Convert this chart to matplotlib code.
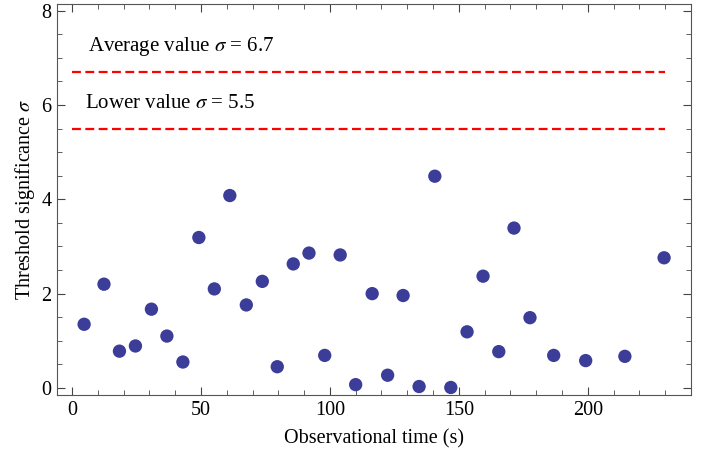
import matplotlib
matplotlib.use('Agg')
import matplotlib.pyplot as plt
from matplotlib.ticker import MultipleLocator

plt.rcParams['font.family'] = ['Liberation Serif', 'DejaVu Serif']
plt.rcParams['mathtext.fontset'] = 'stix'

# observation times (s) and threshold significance
times = [4.7, 12.4, 18.4, 24.6, 30.8, 36.8, 43.0, 49.2, 55.2, 61.2, 67.6, 73.8,
         79.6, 85.8, 91.9, 98.0, 104.0, 110.0, 116.4, 122.4, 128.4, 134.6, 140.7,
         146.9, 153.2, 159.4, 165.5, 171.4, 177.6, 186.8, 199.2, 214.4, 229.6]
sigma = [1.35, 2.20, 0.78, 0.89, 1.67, 1.10, 0.55, 3.19, 2.10, 4.08, 1.76, 2.26,
         0.45, 2.63, 2.86, 0.69, 2.82, 0.07, 2.00, 0.27, 1.96, 0.03, 4.49,
         0.01, 1.19, 2.37, 0.77, 3.39, 1.49, 0.69, 0.58, 0.67, 2.76]

avg_sigma = 6.7
low_sigma = 5.5
line_x = [0, 230]

fig = plt.figure(figsize=(7.13, 4.53), dpi=100)
ax = fig.add_axes([0.080, 0.128, 0.889, 0.863])

ax.scatter(times, sigma, s=92, color='#3c3d98', edgecolors='none', zorder=3)
ax.plot(line_x, [avg_sigma, avg_sigma], color='red', ls=(0, (4, 2)), lw=1.6)
ax.plot(line_x, [low_sigma, low_sigma], color='red', ls=(0, (4, 2)), lw=1.6)

ax.text(6.3, 7.25, r'Average value $\sigma$ = 6.7', fontsize=15, va='center')
ax.text(5.1, 6.03, r'Lower value $\sigma$ = 5.5', fontsize=15, va='center')

ax.set_xlim(-5.8, 240)
ax.set_ylim(-0.15, 8.14)
ax.xaxis.set_major_locator(MultipleLocator(50))
ax.xaxis.set_minor_locator(MultipleLocator(10))
ax.yaxis.set_major_locator(MultipleLocator(2))
ax.yaxis.set_minor_locator(MultipleLocator(0.5))
ax.tick_params(which='both', direction='in', top=True, right=True,
               labelsize=14.5, color='#444444', pad=4)
ax.tick_params(which='major', length=6)
ax.tick_params(which='minor', length=3.5)
for sp in ax.spines.values():
    sp.set_color('#555555')

ax.set_xlabel('Observational time (s)', fontsize=14.5, labelpad=7)
ax.set_ylabel(r'Threshold significance $\sigma$', fontsize=14.5, labelpad=3)

fig.savefig('out.png', dpi=100)
